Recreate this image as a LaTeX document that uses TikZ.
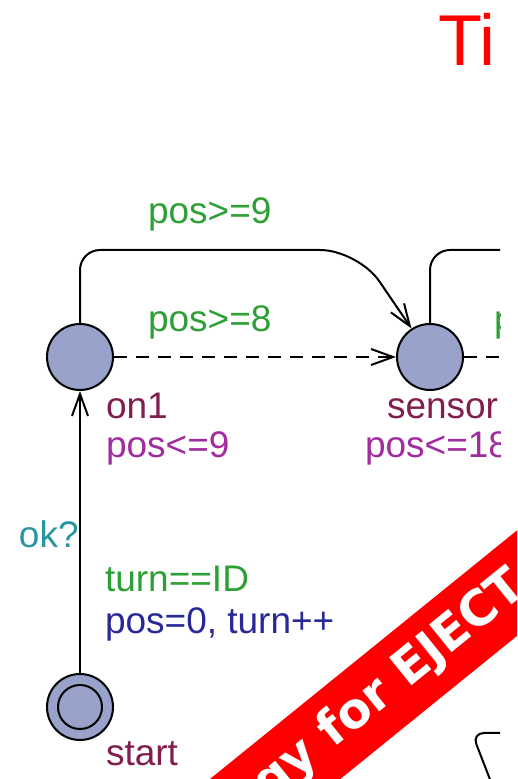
\documentclass[tikz,border=0pt]{standalone}
\usepackage{fontspec}
\setmainfont{Liberation Sans}
\newfontfamily\bannerfont{DejaVu Sans}
\usepackage{tikz}
\usetikzlibrary{positioning, arrows.meta}
\definecolor{locblue}{RGB}{152,162,202}
\definecolor{guardgreen}{RGB}{44,160,52}
\definecolor{namemaroon}{RGB}{128,30,80}
\definecolor{invpurple}{RGB}{160,44,160}
\definecolor{synccyan}{RGB}{40,150,160}
\definecolor{assignblue}{RGB}{40,40,150}
\tikzstyle{loc}=[%
      circle, draw=black, line width=2pt, fill=locblue,
      minimum size=66pt, inner sep=0pt
]
\tikzstyle{locinner}=[%
      loc, minimum size=44pt
]
\tikzstyle{lbl}=[%
      anchor=base west, inner sep=0pt, font=\fontsize{37}{40}\selectfont
]
\tikzstyle{guard}=[lbl, text=guardgreen]
\tikzstyle{locname}=[lbl, text=namemaroon]
\tikzstyle{invar}=[lbl, text=invpurple]
\tikzstyle{sync}=[lbl, text=synccyan]
\tikzstyle{assign}=[lbl, text=assignblue]
\tikzstyle{title}=[%
      anchor=base west, inner sep=0pt, text=red, font=\fontsize{72}{76}\selectfont
]
\tikzstyle{banner}=[%
      rectangle, fill=red, draw=none, text=white,
      minimum width=1000pt, minimum height=82pt,
      font=\bannerfont\bfseries\fontsize{49}{52}\selectfont
]
\begin{document}
\begin{tikzpicture}[x=1pt, y=1pt,
    line width=2pt,
    -{Straight Barb[length=22pt,width=16pt]},
    node distance=282pt
  ]
    \useasboundingbox (0,0) rectangle (517,779);
    \clip (0,0) rectangle (517,779);

  \begin{scope}
    \clip (0,0) rectangle (500,779);

    \node[loc]   (on1)    at (80,422)       {};
    \node[loc]   (sensor) [right = of on1]  {};
    \node[loc]   (start)  [below = of on1]  {};
    \node[locinner] (startin) at (start)    {};

    \node[locname] (on1name)    at (105,360) {on1};
    \node[invar]   (on1inv)     at (105,321) {pos<=9};
    \node[locname] (sensorname) at (386,360) {sensor};
    \node[invar]   (sensorinv)  at (364,321) {pos<=18};
    \node[locname] (startname)  at (105,13)  {start};

    \coordinate (exittop)  at (560,529);
    \coordinate (exitmid)  at (560,422);
    \coordinate (curvein)  at (560,46);
    \coordinate (curveout) at (498,-21);

    \draw (on1.north) [rounded corners=20pt] -- (80,529)
          [rounded corners=38pt] -- (358,529) -- (sensor.123);
    \draw[dash pattern=on 13pt off 9pt] (on1) -- (sensor);
    \draw[-, rounded corners=20pt] (sensor.north) |- (exittop);
    \draw[-, dash pattern=on 13pt off 9pt] (sensor) -- (exitmid);
    \draw (start) -- (on1);
    \draw[-, rounded corners=12pt] (curvein) -- (472,46) -- (curveout);

    \node[guard]  (g1) at (147,555) {pos>=9};
    \node[guard]  (g2) at (147,447) {pos>=8};
    \node[guard]  (g3) at (493,447) {pos>=17};
    \node[sync]   (s1) at (18,231)  {ok?};
    \node[guard]  (g4) at (104,187) {turn==ID};
    \node[assign] (a1) at (104,145) {pos=0, turn++};

    \node[title] (ttl) at (437,713) {Ti};
  \end{scope}

    \node[banner, rotate=39] (band) at (390,93) {gy for EJECT};
  \end{tikzpicture}
\end{document}
